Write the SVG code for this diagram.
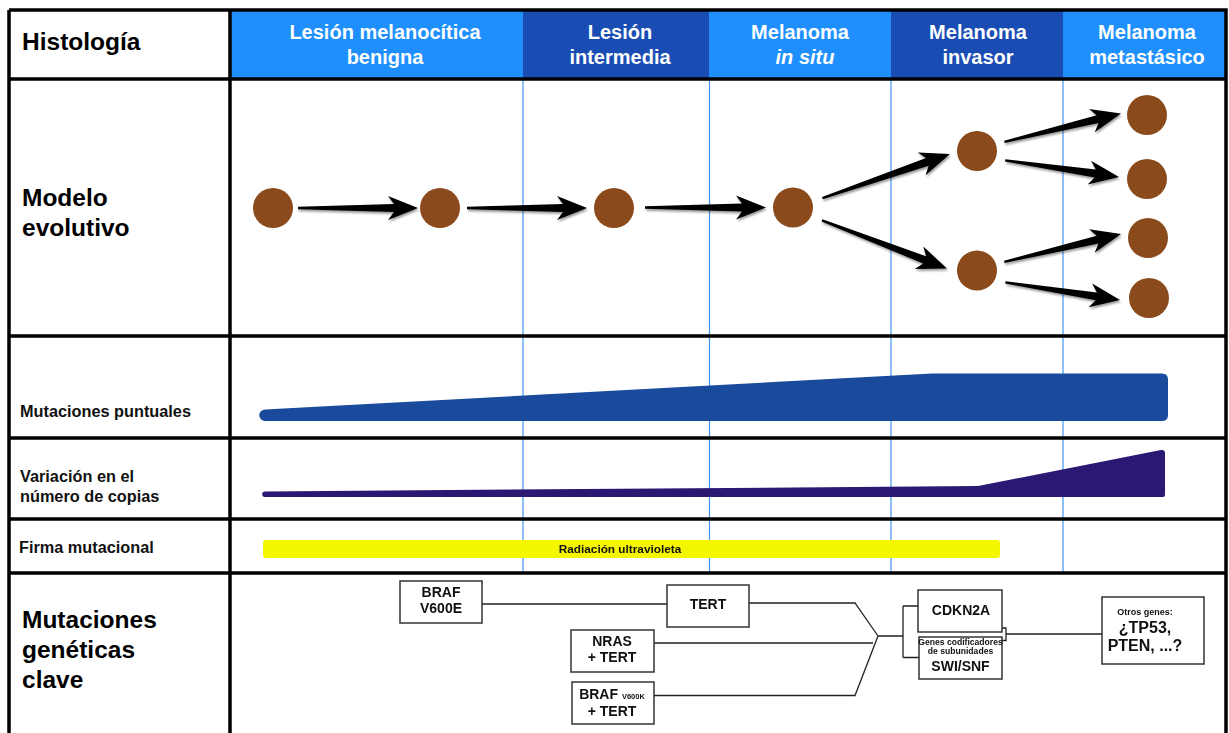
<svg xmlns="http://www.w3.org/2000/svg" width="1229" height="733" viewBox="0 0 1229 733">
<style>
text{font-family:"Liberation Sans",Arial,sans-serif;font-weight:bold}
.hd{fill:#fff;font-size:20px;text-anchor:middle}
.big{font-size:24.5px;fill:#000}
.lab{font-size:16.3px;fill:#111}
.box{fill:#fff;stroke:#333;stroke-width:1.5}
.bt{font-size:14px;text-anchor:middle;fill:#111}
.con{fill:none;stroke:#222;stroke-width:1.3}
.cell{fill:#8B4A1C}
.arr{fill:#000}
.vl{stroke:#3f96f5;stroke-width:1.2}
.grid{stroke:#000;stroke-width:3.5;fill:none}
</style>
<defs>
<filter id="sh" x="-20%" y="-50%" width="140%" height="200%">
<feDropShadow dx="1" dy="2" stdDeviation="1.3" flood-color="#000" flood-opacity="0.4"/>
</filter>
</defs>
<rect x="0" y="0" width="1229" height="733" fill="#fff"/>

<g id="header">
<rect x="230" y="10" width="293" height="69" fill="#1e8ffd"/>
<rect x="523" y="10" width="186" height="69" fill="#1a4db3"/>
<rect x="709" y="10" width="182" height="69" fill="#1e8ffd"/>
<rect x="891" y="10" width="172" height="69" fill="#1a4db3"/>
<rect x="1063" y="10" width="163" height="69" fill="#1e8ffd"/>
<text class="big" x="22" y="50">Histología</text>
<text class="hd" x="385" y="39">Lesión melanocítica</text>
<text class="hd" x="385" y="64">benigna</text>
<text class="hd" x="620" y="39">Lesión</text>
<text class="hd" x="620" y="64">intermedia</text>
<text class="hd" x="800" y="39">Melanoma</text>
<text class="hd" x="805" y="64" font-style="italic">in situ</text>
<text class="hd" x="978" y="39">Melanoma</text>
<text class="hd" x="978" y="64">invasor</text>
<text class="hd" x="1147" y="39">Melanoma</text>
<text class="hd" x="1147" y="64">metastásico</text>
</g>

<g id="guides">
<line class="vl" x1="523" y1="79" x2="523" y2="573"/>
<line class="vl" x1="709.5" y1="79" x2="709.5" y2="573"/>
<line class="vl" x1="891" y1="79" x2="891" y2="573"/>
<line class="vl" x1="1063" y1="79" x2="1063" y2="573"/>
</g>

<g id="row-labels">
<text class="big" x="22" y="206">Modelo</text>
<text class="big" x="22" y="236">evolutivo</text>
<text class="lab" x="20" y="417">Mutaciones puntuales</text>
<text class="lab" x="20" y="482">Variación en el</text>
<text class="lab" x="20" y="502">número de copias</text>
<text class="lab" x="19" y="553">Firma mutacional</text>
<text class="big" x="22" y="628">Mutaciones</text>
<text class="big" x="22" y="658">genéticas</text>
<text class="big" x="22" y="688">clave</text>
</g>

<g id="cells">
<circle class="cell" cx="273" cy="208" r="20"/>
<circle class="cell" cx="440" cy="208" r="20"/>
<circle class="cell" cx="614" cy="208" r="20"/>
<circle class="cell" cx="793" cy="207.5" r="20"/>
<circle class="cell" cx="977" cy="151" r="20"/>
<circle class="cell" cx="977" cy="270.5" r="20"/>
<circle class="cell" cx="1147" cy="115" r="20"/>
<circle class="cell" cx="1147" cy="179" r="20"/>
<circle class="cell" cx="1148" cy="238" r="20"/>
<circle class="cell" cx="1149" cy="298" r="20"/>
</g>

<g id="connectors">
<g filter="url(#sh)">
<path class="arr" transform="translate(418,208)" d="M0,0 L-30,-12 L-24,-4 L-120,-1.2 L-120,1.2 L-24,4 L-30,12 Z"/>
<path class="arr" transform="translate(587,208)" d="M0,0 L-30,-12 L-24,-4 L-120,-1.2 L-120,1.2 L-24,4 L-30,12 Z"/>
<path class="arr" transform="translate(766,207.5)" d="M0,0 L-30,-12 L-24,-4 L-121,-1.2 L-121,1.2 L-24,4 L-30,12 Z"/>
<path class="arr" transform="translate(950,154) rotate(-19.1)" d="M0,0 L-30,-12 L-24,-4 L-135,-1.2 L-135,1.2 L-24,4 L-30,12 Z"/>
<path class="arr" transform="translate(947,268.5) rotate(21.1)" d="M0,0 L-30,-12 L-24,-4 L-134,-1.2 L-134,1.2 L-24,4 L-30,12 Z"/>
<path class="arr" transform="translate(1121,113.5) rotate(-13.7)" d="M0,0 L-30,-12 L-24,-4 L-120,-1.2 L-120,1.2 L-24,4 L-30,12 Z"/>
<path class="arr" transform="translate(1119,177) rotate(8.3)" d="M0,0 L-30,-12 L-24,-4 L-115,-1.2 L-115,1.2 L-24,4 L-30,12 Z"/>
<path class="arr" transform="translate(1121,234) rotate(-13.4)" d="M0,0 L-30,-12 L-24,-4 L-120,-1.2 L-120,1.2 L-24,4 L-30,12 Z"/>
<path class="arr" transform="translate(1120,300) rotate(8.75)" d="M0,0 L-30,-12 L-24,-4 L-116,-1.2 L-116,1.2 L-24,4 L-30,12 Z"/>
</g>
<path class="con" d="M482,604 H667"/>
<path class="con" d="M749,603 H855 L878,636 M654,643 H873 M654,695.5 H855 L878,636 M878,636 H903 M903,606 V657.5 M903,606 H918 M903,657.5 H919"/>
<path class="con" d="M1002,628 H1006 V640.5 H1002 M1006,634 H1102"/>
</g>

<g id="ramps">
<path fill="#1a4a9c" d="M265,409.5 L932,373.5 L1162,373.5 Q1168,373.5 1168,379.5 L1168,415 Q1168,421 1162,421 L265,421 A5.75,5.75 0 0 1 265,409.5 Z"/>
<path fill="#2b1873" d="M265,491.5 L978,486 L1161,450 Q1165,449.5 1165,453 L1165,495 Q1165,497 1163,497 L265,497 A2.75,2.75 0 0 1 265,491.5 Z"/>
<rect x="263" y="540" width="737" height="18" rx="3" fill="#f4f700"/>
<text x="620" y="553" font-size="11.8px" text-anchor="middle" fill="#111">Radiación ultravioleta</text>
</g>

<g id="n-braf-v600e">
<rect class="box" x="400" y="581" width="82" height="42"/>
<text class="bt" x="441" y="597">BRAF</text>
<text class="bt" x="441" y="613">V600E</text>
</g>
<g id="n-tert">
<rect class="box" x="667" y="585" width="82" height="42"/>
<text class="bt" x="708" y="609">TERT</text>
</g>
<g id="n-nras">
<rect class="box" x="571" y="630" width="83" height="42"/>
<text class="bt" x="612" y="646">NRAS</text>
<text class="bt" x="612" y="662">+ TERT</text>
</g>
<g id="n-braf-v600k">
<rect class="box" x="572" y="682" width="82" height="42"/>
<text class="bt" x="612" y="699">BRAF <tspan font-size="7.5px">V600K</tspan></text>
<text class="bt" x="612" y="716">+ TERT</text>
</g>
<g id="n-cdkn2a">
<rect class="box" x="918" y="590" width="84" height="42"/>
<text class="bt" x="961" y="615">CDKN2A</text>
</g>
<g id="n-swisnf">
<rect class="box" x="919" y="637" width="83" height="42"/>
<text x="960.5" y="645" font-size="8.6px" font-weight="normal" text-anchor="middle" fill="#111">Genes codificadores</text>
<text x="960.5" y="654" font-size="8.6px" font-weight="normal" text-anchor="middle" fill="#111">de subunidades</text>
<text class="bt" x="960.5" y="671">SWI/SNF</text>
</g>
<g id="n-otros">
<rect class="box" x="1102" y="597" width="102" height="67"/>
<text x="1145" y="615" font-size="9px" font-weight="normal" text-anchor="middle" fill="#111">Otros genes:</text>
<text x="1145" y="633" font-size="16px" text-anchor="middle" fill="#111">¿TP53,</text>
<text x="1145" y="651" font-size="16px" text-anchor="middle" fill="#111">PTEN, ...?</text>
</g>

<g id="table">
<path class="grid" d="M9,10 H1226 V740 M9,10 V740 M230,10 V740 M9,79 H1226 M9,336 H1226 M9,438 H1226 M9,519 H1226 M9,573 H1226"/>
</g>
</svg>
